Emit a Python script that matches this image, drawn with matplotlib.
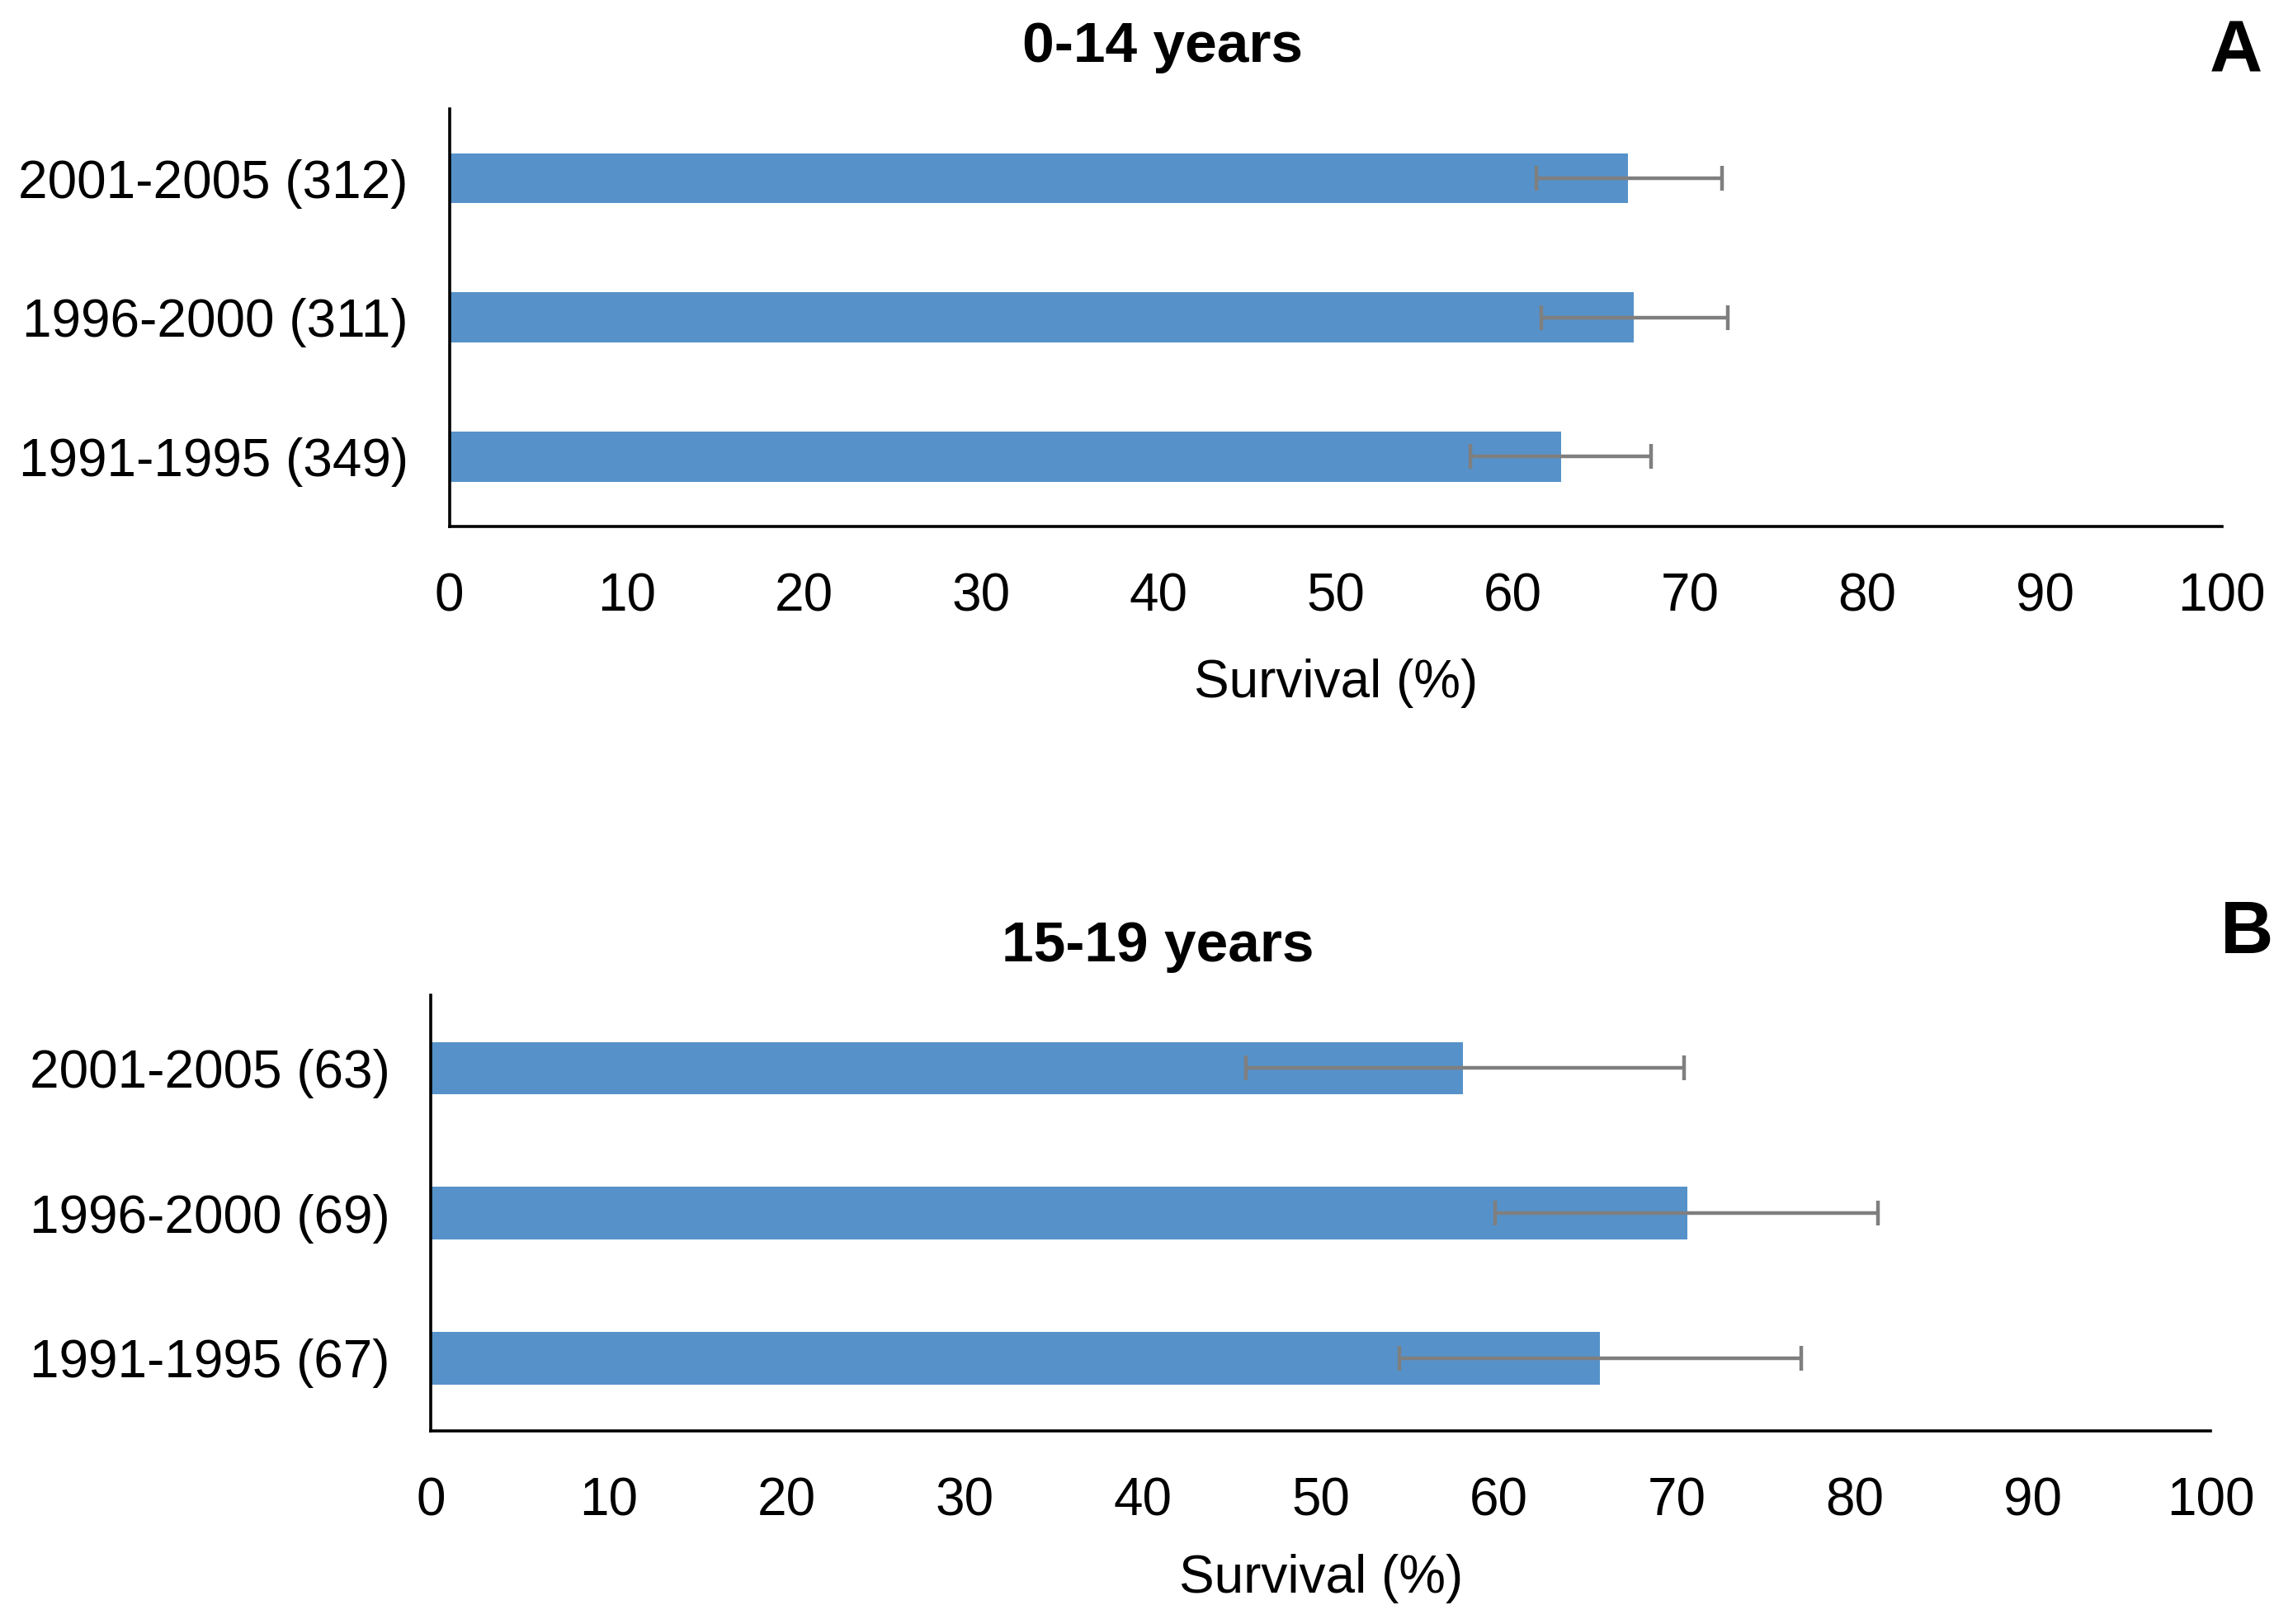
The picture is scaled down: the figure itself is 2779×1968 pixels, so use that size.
import matplotlib
matplotlib.use('Agg')
import matplotlib.pyplot as plt

plt.rcParams['font.family'] = ['Liberation Sans', 'DejaVu Sans']

# panel A: 0-14 years
labels_a = ['1991-1995 (349)', '1996-2000 (311)', '2001-2005 (312)']
surv_a = [62.7, 66.8, 66.5]
low_a = [57.6, 61.6, 61.3]
high_a = [67.8, 72.1, 71.8]

# panel B: 15-19 years
labels_b = ['1991-1995 (67)', '1996-2000 (69)', '2001-2005 (63)']
surv_b = [65.7, 70.6, 58.0]
low_b = [54.4, 59.8, 45.8]
high_b = [77.0, 81.3, 70.4]

xticks = list(range(0, 101, 10))

BAR = '#5692C9'
ERR = '#7f7f7f'

fig = plt.figure(figsize=(2779/200, 1968/200), dpi=200)


def panel(rect, labels, surv, low, high, title, tag, title_xy, tag_xy, labelpad):
    ax = fig.add_axes(rect)
    pos = range(len(labels))
    xerr = [[s - l for s, l in zip(surv, low)], [h - s for s, h in zip(surv, high)]]
    ax.barh(pos, surv, height=0.36, color=BAR, zorder=1)
    ax.errorbar(surv, pos, xerr=xerr, fmt='none', ecolor=ERR, elinewidth=1.6,
                capsize=5.5, capthick=1.6, zorder=2)
    ax.set_xlim(0, 100)
    ax.set_ylim(-0.5, len(labels) - 0.5)
    ax.set_xticks(xticks)
    ax.set_yticks(list(pos))
    ax.set_yticklabels(labels)
    ax.tick_params(axis='both', length=0, labelsize=23)
    ax.tick_params(axis='x', pad=20)
    ax.tick_params(axis='y', pad=18)
    for s in ['top', 'right']:
        ax.spines[s].set_visible(False)
    for s in ['left', 'bottom']:
        ax.spines[s].set_linewidth(1.3)
        ax.spines[s].set_color('black')
    ax.set_xlabel('Survival (%)', fontsize=23, labelpad=labelpad)
    fig.text(title_xy[0], title_xy[1], title, fontsize=25, fontweight='bold', ha='center', va='center')
    fig.text(tag_xy[0], tag_xy[1], tag, fontsize=32, fontweight='bold', ha='center', va='center')
    return ax


panel([0.196, 0.676, 0.773, 0.257], labels_a, surv_a, low_a, high_a,
      '0-14 years', 'A', (0.507, 0.971), (0.975, 0.967), 16)
panel([0.188, 0.119, 0.776, 0.268], labels_b, surv_b, low_b, high_b,
      '15-19 years', 'B', (0.505, 0.417), (0.980, 0.425), 12)

fig.savefig('out.png', dpi=200, facecolor='white')
